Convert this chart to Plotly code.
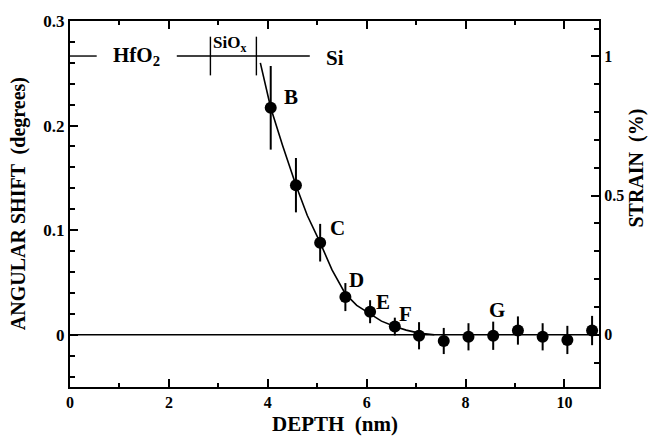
import plotly.graph_objects as go

# ---- data ----
depth = [4.06, 4.57, 5.06, 5.57, 6.07, 6.57, 7.06, 7.56, 8.06, 8.56, 9.06, 9.56, 10.06, 10.56]
shift = [0.217, 0.143, 0.088, 0.036, 0.022, 0.0078, -0.001, -0.006, -0.002, -0.001, 0.004, -0.002, -0.005, 0.004]
err = [0.040, 0.026, 0.018, 0.0134, 0.011, 0.0085, 0.013, 0.0125, 0.013, 0.0135, 0.0135, 0.013, 0.0135, 0.014]

fit_x = [3.85, 4.06, 4.3, 4.57, 4.8, 5.06, 5.3, 5.57, 5.8, 6.07, 6.3, 6.57, 6.8, 7.06, 7.37]
fit_y = [0.26, 0.217, 0.181, 0.143, 0.114, 0.088, 0.062, 0.039, 0.028, 0.020, 0.013, 0.0078, 0.0044, 0.0015, 0.0]

point_labels = ["B", "C", "D", "E", "F", "G"]
label_x = [4.48, 5.41, 5.80, 6.34, 6.78, 8.63]
label_y = [0.227, 0.1025, 0.052, 0.031, 0.020, 0.024]

x_ticks = [0, 2, 4, 6, 8, 10]
y_ticks = [0, 0.1, 0.2, 0.3]
y_ticklabels = ["0", "0.1", "0.2", "0.3"]
strain_ticks = [0, 0.5, 1]
strain_ticklabels = ["0", "0.5", "1"]
strain_per_degree = 3.757

# layer structure header
layer_names = ["HfO<sub>2</sub>", "SiO<sub>x</sub>", "Si"]
layer_name_x = [1.35, 3.23, 5.37]
layer_name_y = [0.267, 0.278, 0.265]
layer_name_size = [21, 17, 21]
header_y = 0.2665
header_segments = [(0.0, 0.54), (2.16, 2.84), (2.84, 3.77), (3.77, 4.85)]
layer_bounds = [2.84, 3.77]
bound_span = (0.248, 0.285)

x_range = [0, 10.7]
y_range = [-0.05, 0.3]

FONT = "Liberation Serif"
BLACK = "black"

fig = go.Figure()

# zero line
fig.add_trace(go.Scatter(x=x_range, y=[0, 0], mode="lines",
                         line=dict(color=BLACK, width=1.6), showlegend=False, hoverinfo="skip"))

# header lines
hx, hy = [], []
for a, b in header_segments:
    hx += [a, b, None]
    hy += [header_y, header_y, None]
for b in layer_bounds:
    hx += [b, b, None]
    hy += [bound_span[0], bound_span[1], None]
fig.add_trace(go.Scatter(x=hx, y=hy, mode="lines", line=dict(color=BLACK, width=1.4),
                         showlegend=False, hoverinfo="skip", cliponaxis=False))

# fit curve
fig.add_trace(go.Scatter(x=fit_x, y=fit_y, mode="lines", line=dict(color=BLACK, width=1.6),
                         showlegend=False))

# data points
fig.add_trace(go.Scatter(x=depth, y=shift, mode="markers",
                         marker=dict(color=BLACK, size=12),
                         error_y=dict(type="data", array=err, color=BLACK, thickness=2, width=0),
                         showlegend=False))

# invisible trace on strain axis
fig.add_trace(go.Scatter(x=[x_range[0]], y=[0], yaxis="y2", mode="markers",
                         marker=dict(opacity=0), showlegend=False, hoverinfo="skip"))

annotations = []
for t, x, y in zip(point_labels, label_x, label_y):
    annotations.append(dict(x=x, y=y, text=f"<b>{t}</b>", showarrow=False,
                            font=dict(family=FONT, size=21, color=BLACK)))
for t, x, y, s in zip(layer_names, layer_name_x, layer_name_y, layer_name_size):
    annotations.append(dict(x=x, y=y, text=f"<b>{t}</b>", showarrow=False,
                            font=dict(family=FONT, size=s, color=BLACK)))

# axis titles
annotations.append(dict(xref="paper", yref="paper", x=0.5, y=-0.102, yanchor="middle",
                        text="<b>DEPTH  (nm)</b>", showarrow=False,
                        font=dict(family=FONT, size=21, color=BLACK)))
annotations.append(dict(xref="paper", yref="paper", x=-0.098, y=0.5, xanchor="center",
                        text="<b>ANGULAR SHIFT  (degrees)</b>", textangle=-90, showarrow=False,
                        font=dict(family=FONT, size=20, color=BLACK)))
annotations.append(dict(xref="paper", yref="paper", x=1.07, y=0.597, xanchor="center",
                        text="<b>STRAIN  (%)</b>", textangle=-90, showarrow=False,
                        font=dict(family=FONT, size=20, color=BLACK)))

fig.update_layout(
    width=664, height=437,
    margin=dict(l=70, r=65, t=17, b=50),
    paper_bgcolor="white", plot_bgcolor="white",
    annotations=annotations,
    xaxis=dict(range=x_range, tickvals=x_ticks, ticks="inside", ticklen=8, tickwidth=1.5,
               tickcolor=BLACK, showline=True, linecolor=BLACK, linewidth=2, mirror="ticks",
               showgrid=False, zeroline=False,
               minor=dict(dtick=1, ticks="inside", ticklen=4, tickwidth=1.5, tickcolor=BLACK, showgrid=False),
               tickfont=dict(family=FONT, size=16, color=BLACK, weight="bold")),
    yaxis=dict(range=y_range, tickvals=y_ticks, ticktext=y_ticklabels, ticks="inside", ticklen=8,
               tickwidth=1.5, tickcolor=BLACK, showline=True, linecolor=BLACK, linewidth=2,
               showgrid=False, zeroline=False,
               minor=dict(tick0=0, dtick=0.02, ticks="inside", ticklen=5, tickwidth=1.5, tickcolor=BLACK, showgrid=False),
               tickfont=dict(family=FONT, size=17, color=BLACK, weight="bold")),
    yaxis2=dict(range=[y_range[0] * strain_per_degree, y_range[1] * strain_per_degree],
                overlaying="y", side="right", tickvals=strain_ticks, ticktext=strain_ticklabels,
                ticks="inside", ticklen=8, tickwidth=1.5, tickcolor=BLACK,
                showline=True, linecolor=BLACK, linewidth=2, showgrid=False, zeroline=False,
                minor=dict(tick0=0, dtick=0.1, ticks="inside", ticklen=5, tickwidth=1.5, tickcolor=BLACK, showgrid=False),
                tickfont=dict(family=FONT, size=16, color=BLACK, weight="bold")),
)

fig.write_html("out.html", config={"displayModeBar": False},
               post_script="document.body.style.margin='0';")
